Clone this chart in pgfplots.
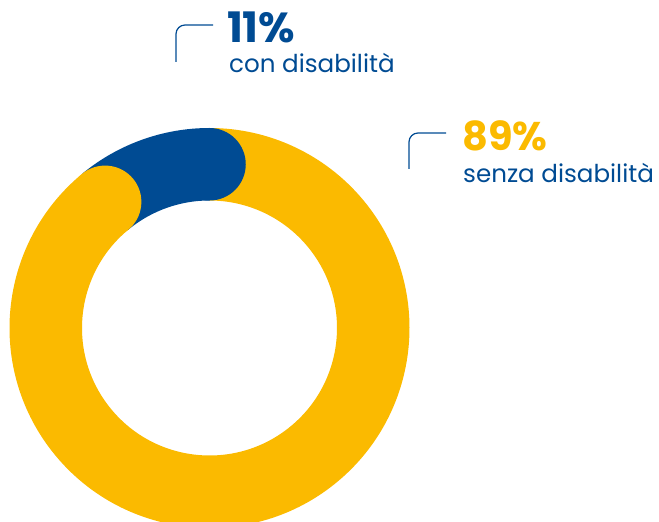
\documentclass[border=0pt]{standalone}
\usepackage{pgfplots}
\pgfplotsset{compat=1.18}
\usepackage{pgfplotstable}
\usepackage{fontspec}
\setmainfont{Poppins}
\definecolor{ycol}{RGB}{251,186,0}
\definecolor{bcol}{RGB}{0,75,147}
\pgfplotstableread{
label value
senza 89
con 11
}\donutdata
\begin{document}
\begin{tikzpicture}
\pgfplotstablegetelem{0}{value}\of\donutdata \let\vSenza\pgfplotsretval
\pgfplotstablegetelem{1}{value}\of\donutdata \let\vCon\pgfplotsretval
\pgfmathsetmacro\aStart{90}
\pgfmathsetmacro\aMid{90+\vCon*3.6}
\pgfmathsetmacro\aEnd{90+(\vCon+\vSenza)*3.6}
\begin{axis}[hide axis, x=1pt, y=1pt, xmin=0, xmax=659, ymin=0, ymax=522,
  at={(0,0)}, anchor=south west, clip=false]
\draw[ycol, line width=72.5pt, line cap=butt] ([shift={(\aMid:163.75pt)}]axis cs:209.5,194) arc[start angle=\aMid, end angle=\aEnd, radius=163.75pt];
\draw[bcol, line width=72.5pt, line cap=butt] ([shift={(\aStart:163.75pt)}]axis cs:209.5,194) arc[start angle=\aStart, end angle=\aMid, radius=163.75pt];
\fill[bcol] ([shift={(\aStart:163.75pt)}]axis cs:209.5,194) circle[radius=36.25pt];
\fill[ycol] ([shift={(\aMid:163.75pt)}]axis cs:209.5,194) circle[radius=36.25pt];
\draw[bcol, line width=1.2pt, rounded corners=9pt] (axis cs:176,460) -- (axis cs:176,497) -- (axis cs:213,497);
\draw[bcol, line width=1.2pt, rounded corners=9pt] (axis cs:409,353) -- (axis cs:409,389) -- (axis cs:446,389);
\node[anchor=base west, inner sep=0, text=bcol, font=\fontsize{42}{42}\selectfont\bfseries] at (axis cs:227,479) {11\%};
\node[anchor=base west, inner sep=0, text=bcol, font=\fontsize{24.6}{24.6}\selectfont] at (axis cs:229,449) {con disabilità};
\node[anchor=base west, inner sep=0, text=ycol, font=\fontsize{40}{40}\selectfont\bfseries] at (axis cs:462,371) {89\%};
\node[anchor=base west, inner sep=0, text=bcol, font=\fontsize{24.6}{24.6}\selectfont] at (axis cs:463,339) {senza disabilità};
\end{axis}
\pgfresetboundingbox
\useasboundingbox (0,0) rectangle (659pt,522pt);
\end{tikzpicture}
\end{document}
